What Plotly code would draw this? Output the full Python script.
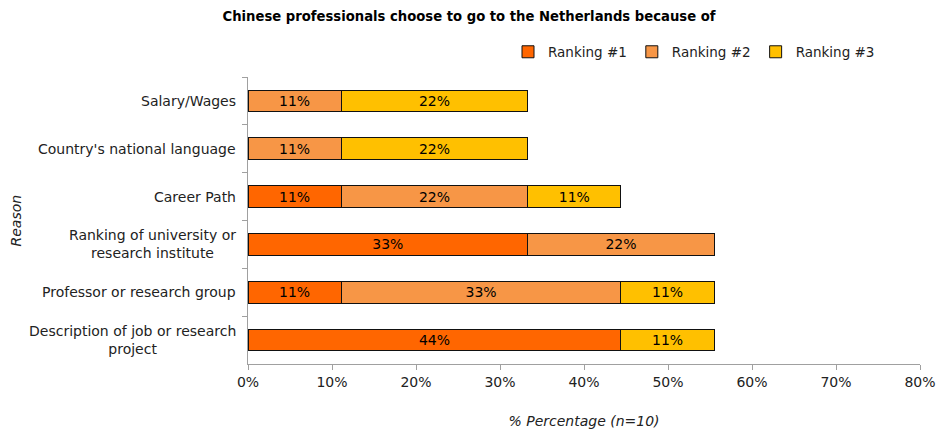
import plotly.graph_objects as go

# Reasons, listed top to bottom
reasons = [
    "Salary/Wages",
    "Country's national language",
    "Career Path",
    "Ranking of university or<br>research institute",
    "Professor or research group",
    "Description of job or research<br>project",
]

# Share of respondents (%) per ranking; None = no responses
ranking_1 = [None, None, 11.1, 33.3, 11.1, 44.4]
ranking_2 = [11.1, 11.1, 22.2, 22.2, 33.3, None]
ranking_3 = [22.2, 22.2, 11.1, None, 11.1, 11.1]

series = [
    ("Ranking #1", ranking_1, "#FF6600"),
    ("Ranking #2", ranking_2, "#F79646"),
    ("Ranking #3", ranking_3, "#FFC000"),
]

x_ticks = [0, 10, 20, 30, 40, 50, 60, 70, 80]

FONT = "DejaVu Sans, Verdana, sans-serif"
W, H = 938, 429
ML, MR, MT, MB = 248, 18, 77, 65

fig = go.Figure()
for name, vals, color in series:
    fig.add_trace(go.Bar(
        name=name,
        y=reasons,
        x=vals,
        orientation="h",
        marker=dict(color=color, line=dict(color="#111111", width=1)),
        texttemplate="%{x:.0f}%",
        textposition="inside",
        insidetextanchor="middle",
        textfont=dict(family=FONT, size=14, color="#000000"),
        constraintext="none",
    ))

# Category labels, centred line by line, right-aligned against the axis
for r in reasons:
    fig.add_annotation(
        x=0, xref="paper", y=r, yref="y",
        text=r, showarrow=False, xanchor="right", align="center",
        xshift=-10, font=dict(family=FONT, size=14, color="#222222"),
    )

fig.update_layout(
    width=W, height=H,
    margin=dict(l=ML, r=MR, t=MT, b=MB, autoexpand=False),
    barmode="stack",
    bargap=0.55,
    plot_bgcolor="white",
    paper_bgcolor="white",
    font=dict(family=FONT, size=14, color="#222222"),
    title=dict(
        text="<b>Chinese professionals choose to go to the Netherlands because of</b>",
        x=0.5, xanchor="center", y=1 - 16 / H, yanchor="middle",
        font=dict(family=FONT, size=13.2, color="#000000"),
    ),
    legend=dict(
        orientation="h", traceorder="normal",
        x=(508 - ML) / (W - ML - MR), xanchor="left",
        y=1 - 52 / H, yref="container", yanchor="middle",
        font=dict(family=FONT, size=13.5, color="#222222"),
        itemwidth=30, tracegroupgap=0,
    ),
    showlegend=True,
)

fig.update_xaxes(
    range=[0, 80], tickvals=x_ticks,
    ticktext=[f"{v}%" for v in x_ticks],
    showgrid=False, zeroline=False,
    showline=True, linecolor="#a0a0a0", linewidth=1,
    ticks="outside", ticklen=5, tickcolor="#a0a0a0",
    tickfont=dict(family=FONT, size=14, color="#222222"),
    title=dict(text="<i>% Percentage (n=10)</i>", standoff=28,
               font=dict(family=FONT, size=14, color="#222222")),
)

fig.update_yaxes(
    autorange="reversed",
    showticklabels=False,
    showgrid=False, zeroline=False,
    showline=True, linecolor="#a0a0a0", linewidth=1,
    ticks="outside", ticklen=5, tickcolor="#a0a0a0",
    tickson="boundaries",
)

# Rotated y-axis title near the left edge
fig.add_annotation(
    x=(15 - ML) / (W - ML - MR), xref="paper", xanchor="center",
    y=0.5, yref="paper",
    text="<i>Reason</i>", showarrow=False, textangle=-90,
    font=dict(family=FONT, size=14, color="#222222"),
)

fig.write_html("out.html")
